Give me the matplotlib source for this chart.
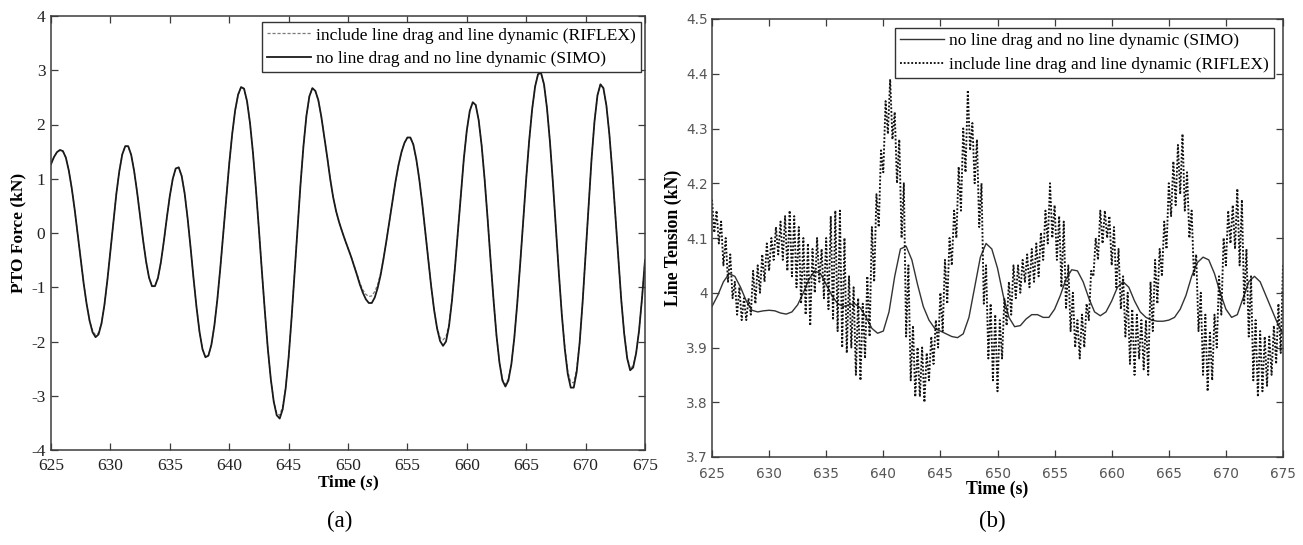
import numpy as np
import matplotlib
matplotlib.use("Agg")
import matplotlib.pyplot as plt
from matplotlib.ticker import FuncFormatter, MultipleLocator

# ---------------- data ----------------
# (a) PTO force, sampled every 0.25 s from 625 s to 675 s
time_a = np.arange(625.0, 675.0 + 1e-9, 0.25)
pto_simo = [
    1.27, 1.40, 1.49, 1.53, 1.51, 1.39, 1.15, 0.82,
    0.42, -0.03, -0.49, -0.93, -1.31, -1.62, -1.83, -1.92,
    -1.87, -1.67, -1.32, -0.86, -0.33, 0.21, 0.72, 1.14,
    1.45, 1.60, 1.60, 1.44, 1.14, 0.75, 0.31, -0.13,
    -0.52, -0.82, -0.98, -0.98, -0.83, -0.54, -0.15, 0.28,
    0.68, 1.00, 1.19, 1.21, 1.05, 0.73, 0.27, -0.27,
    -0.84, -1.37, -1.82, -2.14, -2.29, -2.26, -2.06, -1.71,
    -1.23, -0.65, -0.01, 0.64, 1.27, 1.82, 2.26, 2.55,
    2.69, 2.66, 2.43, 2.03, 1.48, 0.81, 0.07, -0.70,
    -1.44, -2.13, -2.69, -3.11, -3.36, -3.42, -3.25, -2.87,
    -2.30, -1.57, -0.76, 0.08, 0.89, 1.60, 2.16, 2.52,
    2.67, 2.62, 2.45, 2.15, 1.78, 1.40, 1.00, 0.66,
    0.40, 0.20, 0.03, -0.13, -0.28, -0.43, -0.60, -0.77,
    -0.95, -1.10, -1.22, -1.29, -1.29, -1.19, -1.01, -0.77,
    -0.46, -0.12, 0.24, 0.60, 0.95, 1.25, 1.49, 1.66,
    1.76, 1.76, 1.63, 1.36, 0.99, 0.54, 0.03, -0.49,
    -0.98, -1.42, -1.76, -1.99, -2.08, -2.00, -1.72, -1.25,
    -0.65, 0.03, 0.72, 1.37, 1.89, 2.25, 2.41, 2.36,
    2.08, 1.61, 0.99, 0.27, -0.50, -1.23, -1.89, -2.39,
    -2.72, -2.83, -2.72, -2.42, -1.93, -1.29, -0.55, 0.23,
    1.00, 1.70, 2.28, 2.70, 2.93, 2.95, 2.74, 2.30,
    1.68, 0.92, 0.09, -0.74, -1.51, -2.14, -2.60, -2.85,
    -2.85, -2.56, -2.02, -1.27, -0.39, 0.51, 1.36, 2.06,
    2.54, 2.74, 2.67, 2.35, 1.82, 1.13, 0.34, -0.47,
    -1.23, -1.86, -2.31, -2.53, -2.48, -2.22, -1.80, -1.20,
    -0.50,
]
pto_riflex = [
    1.27, 1.40, 1.49, 1.53, 1.51, 1.39, 1.15, 0.82,
    0.42, -0.03, -0.49, -0.93, -1.31, -1.62, -1.80, -1.88,
    -1.84, -1.66, -1.32, -0.86, -0.33, 0.21, 0.72, 1.14,
    1.45, 1.60, 1.60, 1.44, 1.14, 0.75, 0.31, -0.13,
    -0.52, -0.82, -0.98, -0.98, -0.83, -0.54, -0.15, 0.28,
    0.68, 1.00, 1.19, 1.21, 1.05, 0.73, 0.27, -0.27,
    -0.84, -1.37, -1.82, -2.14, -2.29, -2.26, -2.06, -1.71,
    -1.23, -0.65, -0.01, 0.64, 1.27, 1.82, 2.26, 2.55,
    2.69, 2.66, 2.43, 2.03, 1.48, 0.81, 0.07, -0.70,
    -1.44, -2.13, -2.69, -3.10, -3.32, -3.36, -3.20, -2.85,
    -2.30, -1.57, -0.76, 0.08, 0.89, 1.60, 2.16, 2.52,
    2.67, 2.62, 2.45, 2.15, 1.78, 1.40, 1.00, 0.66,
    0.40, 0.20, 0.03, -0.13, -0.28, -0.43, -0.59, -0.75,
    -0.92, -1.05, -1.13, -1.17, -1.16, -1.08, -0.95, -0.74,
    -0.46, -0.12, 0.24, 0.60, 0.95, 1.25, 1.49, 1.66,
    1.76, 1.76, 1.63, 1.36, 0.99, 0.54, 0.03, -0.49,
    -0.98, -1.42, -1.75, -1.93, -1.97, -1.91, -1.68, -1.23,
    -0.65, 0.03, 0.72, 1.37, 1.89, 2.25, 2.41, 2.36,
    2.08, 1.61, 0.99, 0.27, -0.50, -1.23, -1.89, -2.39,
    -2.70, -2.79, -2.69, -2.42, -1.93, -1.29, -0.55, 0.23,
    1.00, 1.70, 2.28, 2.70, 2.93, 2.95, 2.74, 2.30,
    1.68, 0.92, 0.09, -0.74, -1.50, -2.10, -2.55, -2.75,
    -2.76, -2.50, -2.02, -1.27, -0.39, 0.51, 1.36, 2.06,
    2.54, 2.74, 2.67, 2.35, 1.82, 1.13, 0.34, -0.47,
    -1.23, -1.84, -2.28, -2.50, -2.45, -2.22, -1.80, -1.20,
    -0.50,
]

# (b) line tension; SIMO every 0.5 s, RIFLEX every 0.2 s
time_b_simo = np.arange(625.0, 675.0 + 1e-9, 0.5)
tension_simo = [
    3.975, 3.995, 4.020, 4.035, 4.030, 4.010, 3.985, 3.968, 3.965, 3.967,
    3.968, 3.967, 3.963, 3.961, 3.965, 3.978, 4.000, 4.025, 4.040, 4.035,
    4.015, 3.995, 3.980, 3.975, 3.978, 3.980, 3.972, 3.955, 3.935, 3.926,
    3.930, 3.965, 4.030, 4.080, 4.085, 4.060, 4.015, 3.975, 3.950, 3.935,
    3.930, 3.925, 3.920, 3.918, 3.925, 3.955, 4.010, 4.065, 4.090, 4.080,
    4.045, 3.995, 3.955, 3.938, 3.940, 3.952, 3.960, 3.960, 3.955, 3.955,
    3.970, 3.995, 4.025, 4.042, 4.040, 4.020, 3.990, 3.965, 3.958, 3.965,
    3.985, 4.010, 4.020, 4.010, 3.985, 3.965, 3.955, 3.950, 3.948, 3.948,
    3.950, 3.955, 3.970, 3.995, 4.030, 4.055, 4.065, 4.060, 4.035, 4.000,
    3.970, 3.955, 3.960, 3.990, 4.020, 4.030, 4.020, 3.995, 3.970, 3.945,
    3.925,
]
time_b_riflex = np.arange(625.0, 675.0 + 1e-9, 0.2)
tension_riflex = [
    4.17, 4.11, 4.15, 4.09, 4.13,
    4.05, 4.10, 4.02, 4.07, 3.99,
    4.02, 3.96, 4.01, 3.95, 3.99,
    3.95, 3.99, 3.96, 4.04, 3.98,
    4.05, 4.00, 4.07, 4.02, 4.09,
    4.04, 4.10, 4.06, 4.12, 4.07,
    4.13, 4.06, 4.14, 4.04, 4.15,
    4.03, 4.14, 4.01, 4.12, 3.98,
    4.10, 3.96, 4.09, 3.94, 4.08,
    4.00, 4.10, 4.02, 4.08, 3.99,
    4.10, 3.97, 4.14, 3.95, 4.15,
    3.93, 4.15, 3.90, 4.10, 3.89,
    4.03, 3.90, 4.01, 3.85, 3.99,
    3.84, 3.98, 3.88, 4.03, 3.92,
    4.12, 4.02, 4.18, 4.12, 4.26,
    4.22, 4.35, 4.29, 4.39, 4.28,
    4.33, 4.20, 4.28, 4.10, 4.20,
    3.92, 4.05, 3.84, 3.94, 3.81,
    3.90, 3.81, 3.90, 3.80, 3.89,
    3.84, 3.92, 3.87, 3.95, 3.90,
    4.00, 3.93, 4.06, 3.98, 4.10,
    4.05, 4.15, 4.10, 4.23, 4.15,
    4.30, 4.22, 4.37, 4.26, 4.31,
    4.20, 4.28, 4.12, 4.20, 3.98,
    4.05, 3.88, 3.98, 3.84, 3.96,
    3.82, 3.95, 3.88, 3.99, 3.94,
    4.02, 3.96, 4.05, 3.99, 4.05,
    4.00, 4.06, 4.02, 4.07, 4.01,
    4.08, 4.02, 4.09, 4.03, 4.11,
    4.06, 4.15, 4.09, 4.20, 4.10,
    4.16, 4.06, 4.14, 4.01, 4.13,
    3.97, 4.05, 3.93, 4.00, 3.90,
    3.95, 3.88, 3.96, 3.90, 3.98,
    3.95, 4.04, 4.03, 4.10, 4.06,
    4.15, 4.09, 4.15, 4.10, 4.14,
    4.05, 4.12, 4.01, 4.08, 3.97,
    4.03, 3.92, 4.00, 3.87, 3.97,
    3.85, 3.96, 3.88, 3.95, 3.86,
    3.95, 3.85, 4.02, 3.93, 4.06,
    3.98, 4.08, 4.03, 4.13, 4.08,
    4.20, 4.14, 4.24, 4.16, 4.27,
    4.18, 4.29, 4.15, 4.22, 4.10,
    4.15, 4.03, 4.07, 3.93, 4.00,
    3.85, 3.96, 3.82, 3.93, 3.84,
    3.96, 3.90, 4.03, 3.96, 4.10,
    4.05, 4.15, 4.09, 4.16, 4.08,
    4.19, 4.05, 4.17, 3.98, 4.08,
    3.92, 4.03, 3.84, 3.95, 3.81,
    3.93, 3.82, 3.92, 3.83, 3.92,
    3.85, 3.94, 3.87, 3.98, 3.89,
    4.05,
]

label_riflex = "include line drag and line dynamic (RIFLEX)"
label_simo = "no line drag and no line dynamic (SIMO)"

# ---------------- style ----------------
plt.rcParams["font.family"] = ["Liberation Serif", "DejaVu Serif"]
plt.rcParams["axes.unicode_minus"] = False
plt.rcParams["mathtext.fontset"] = "custom"
plt.rcParams["mathtext.it"] = "Liberation Serif:italic:bold"
plt.rcParams["mathtext.rm"] = "Liberation Serif:bold"

W, H = 1303, 545
fig = plt.figure(figsize=(W / 100, H / 100), dpi=100)
fig.patch.set_facecolor("white")

ax_a = fig.add_axes([51 / W, 1 - 450 / H, 594 / W, 434 / H])
ax_b = fig.add_axes([712 / W, 1 - 457 / H, 571 / W, 438 / H])

spine_col = "#3c3c3c"
for ax in (ax_a, ax_b):
    for sp in ax.spines.values():
        sp.set_color(spine_col)
        sp.set_linewidth(1.1)
    ax.tick_params(direction="in", top=True, right=True, length=5,
                   width=0.9, color=spine_col)
    ax.set_xlim(625, 675)
    ax.xaxis.set_major_locator(MultipleLocator(5))

legend_style = dict(loc="upper right", fontsize=12.6, frameon=True,
                    fancybox=False, edgecolor="#333333", framealpha=1,
                    borderpad=0.3, labelspacing=0.42, handlelength=2.5,
                    handletextpad=0.3, borderaxespad=0)

# ---- (a) PTO force ----
ax_a.plot(time_a, pto_riflex, color="#7a7a7a", lw=0.9, ls=(0, (2.5, 1.5)),
          label=label_riflex)
ax_a.plot(time_a, pto_simo, color="#1a1a1a", lw=1.3, label=label_simo)
ax_a.set_ylim(-4, 4)
ax_a.yaxis.set_major_locator(MultipleLocator(1))
ax_a.tick_params(labelsize=12.5, labelcolor="#222222")
ax_a.tick_params(axis="x", pad=6)
ax_a.tick_params(axis="y", pad=4)

ax_a.set_ylabel("PTO Force (kN)", fontsize=12.5, fontweight="bold")
ax_a.yaxis.label.set_va("center")
ax_a.yaxis.set_label_coords((18 - 51) / 594, 0.5)
ax_a.set_xlabel(r"Time ($s$)", fontsize=12.5, fontweight="bold")
ax_a.xaxis.label.set_va("center")
ax_a.xaxis.set_label_coords(0.5, (450 - 483) / 434)

leg_a = ax_a.legend(bbox_to_anchor=(0.993, 0.986), **legend_style)
leg_a.get_frame().set_linewidth(1.0)

# ---- (b) line tension ----
ax_b.plot(time_b_simo, tension_simo, color="#333333", lw=1.0, label=label_simo)
ax_b.plot(time_b_riflex, tension_riflex, color="#111111", lw=1.35,
          ls=(0, (1, 1)), label=label_riflex)
ax_b.set_ylim(3.7, 4.5)
ax_b.set_yticks(np.round(np.arange(3.7, 4.5001, 0.1), 1))
ax_b.yaxis.set_major_formatter(FuncFormatter(lambda v, p: f"{v:g}"))
ax_b.tick_params(labelsize=9.8, labelcolor="#555555")
ax_b.tick_params(axis="x", pad=7)
ax_b.tick_params(axis="y", pad=3)
for t in ax_b.get_xticklabels() + ax_b.get_yticklabels():
    t.set_fontfamily("DejaVu Sans")

ax_b.set_ylabel("Line Tension (kN)", fontsize=12.8, fontweight="bold")
ax_b.yaxis.label.set_va("center")
ax_b.yaxis.set_label_coords((673 - 712) / 571, 0.5)
ax_b.set_xlabel("Time (s)", fontsize=12.8, fontweight="bold")
ax_b.xaxis.label.set_va("center")
ax_b.xaxis.set_label_coords(0.5, (457 - 489) / 438)

leg_b = ax_b.legend(bbox_to_anchor=(0.985, 0.98), **legend_style)
leg_b.get_frame().set_linewidth(1.0)

# panel captions
fig.text(340 / W, 1 - 521 / H, "(a)", ha="center", va="center", fontsize=16.5)
fig.text(992 / W, 1 - 521 / H, "(b)", ha="center", va="center", fontsize=16.5)

fig.savefig("out.png", dpi=100, facecolor="white")
